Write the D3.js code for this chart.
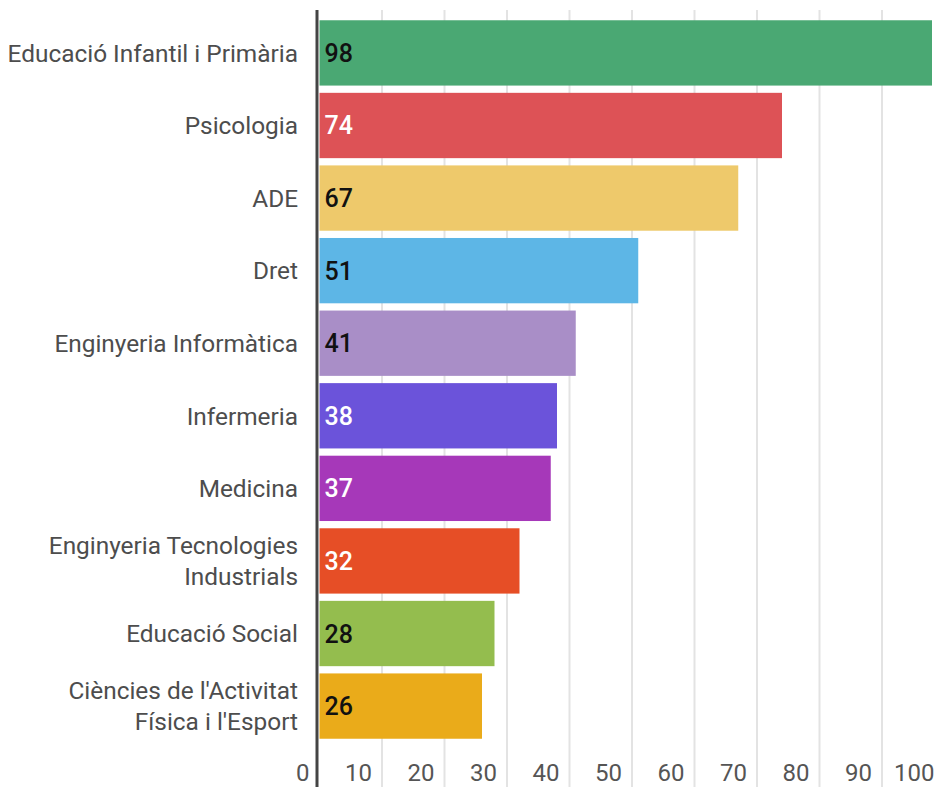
<!DOCTYPE html>
<html>
<head>
<meta charset="utf-8">
<script src="https://cdn.jsdelivr.net/npm/d3@7"></script>
<style>
  body { margin: 0; background: #fff; }
  text { font-family: Roboto, "Noto Sans", sans-serif; }
</style>
</head>
<body>
<svg width="939" height="787"></svg>
<script>
const width = 939;
const height = 787;

// data
const categories = [
  "Educació Infantil i Primària",
  "Psicologia",
  "ADE",
  "Dret",
  "Enginyeria Informàtica",
  "Infermeria",
  "Medicina",
  "Enginyeria Tecnologies|Industrials",
  "Educació Social",
  "Ciències de l'Activitat|Física i l'Esport"
];
const values = [98, 74, 67, 51, 41, 38, 37, 32, 28, 26];
const barColors = ["#4aa873", "#dd5256", "#eec96b", "#5db6e6", "#a98ec7",
                   "#6b53da", "#a638b9", "#e64e26", "#94bd4e", "#eaab1a"];
const labelColors = ["#111", "#fff", "#111", "#111", "#111",
                     "#fff", "#fff", "#fff", "#111", "#111"];
const ticks = [0, 10, 20, 30, 40, 50, 60, 70, 80, 90, 100];

let svg = d3.select("svg").attr("width", width).attr("height", height);

let xScale = d3.scaleLinear().domain([0, 100]).range([319.5, 944.5]);
let yScale = d3.scaleBand().domain(categories).range([13, 746]).padding(0.1);

//gridlines
svg.append("g")
    .selectAll("line")
    .data(ticks.slice(1))
    .enter().append("line")
    .attr("x1", d => xScale(d)).attr("x2", d => xScale(d))
    .attr("y1", 10).attr("y2", height)
    .attr("stroke", "#e3e3e3")
    .attr("stroke-width", 2);

//tick labels, sitting just left of their gridline
svg.append("g")
    .selectAll("text")
    .data(ticks)
    .enter().append("text")
    .attr("x", d => xScale(d) - 10)
    .attr("y", 781)
    .attr("text-anchor", "end")
    .attr("font-size", 24)
    .attr("fill", "#555")
    .text(d => d);

//bars
svg.append("g")
    .selectAll("rect")
    .data(values)
    .enter().append("rect")
    .attr("x", xScale(0))
    .attr("y", (d, i) => yScale(categories[i]))
    .attr("width", d => xScale(d) - xScale(0))
    .attr("height", yScale.bandwidth())
    .attr("fill", (d, i) => barColors[i]);

//values inside the bars
svg.append("g")
    .selectAll("text")
    .data(values)
    .enter().append("text")
    .attr("x", xScale(0) + 5)
    .attr("y", (d, i) => yScale(categories[i]) + yScale.bandwidth() / 2)
    .attr("dy", "0.36em")
    .attr("font-size", 25)
    .attr("font-weight", 500)
    .attr("fill", (d, i) => labelColors[i])
    .text(d => d);

//category labels, some on two lines
let labels = svg.append("g")
    .selectAll("text")
    .data(categories)
    .enter().append("text")
    .attr("text-anchor", "end")
    .attr("font-size", 24.4)
    .attr("fill", "#4d4d4d")
    .attr("transform", d => "translate(298," + (yScale(d) + yScale.bandwidth() / 2) + ")");

labels.each(function(d) {
    let lines = d.split("|");
    let t = d3.select(this);
    lines.forEach((line, j) => {
        t.append("tspan")
            .attr("x", 0)
            .attr("y", (j - (lines.length - 1) / 2) * 31)
            .attr("dy", "0.36em")
            .text(line);
    });
});

//axis line
svg.append("line")
    .attr("x1", 317).attr("x2", 317)
    .attr("y1", 10).attr("y2", height)
    .attr("stroke", "#444")
    .attr("stroke-width", 3);
</script>
</body>
</html>
